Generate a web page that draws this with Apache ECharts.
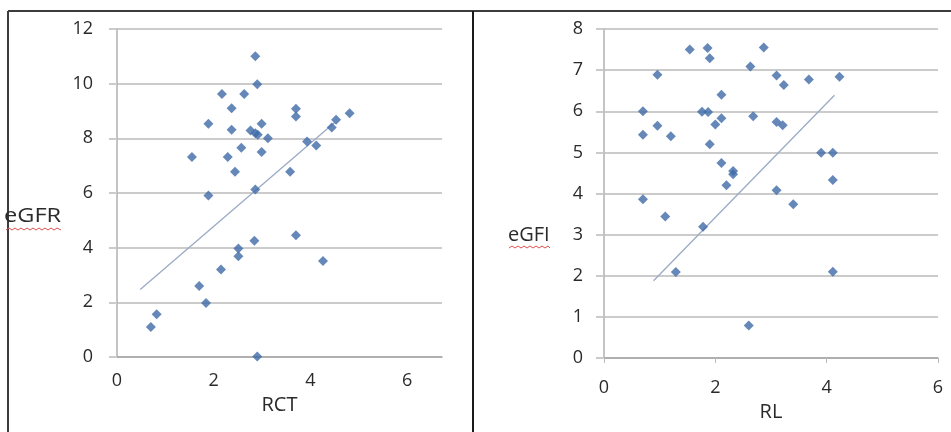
<!DOCTYPE html>
<html>
<head>
<meta charset="utf-8">
<script src="https://cdn.jsdelivr.net/npm/echarts@6/dist/echarts.min.js"></script>
<style>html,body{margin:0;padding:0;background:#fff}#c{width:951px;height:432px}</style>
</head>
<body>
<div id="c"></div>
<script>
// Left panel: RCT vs eGFR
const rctX  = [2.86,2.90,2.17,2.63,2.37,3.70,3.70,4.81,4.53,4.44,1.89,2.99,2.37,2.76,2.86,2.91,3.12,3.93,4.12,2.57,2.99,1.55,2.29,2.44,3.58,2.86,1.89,3.70,2.84,2.51,2.51,4.26,2.15,1.70,1.84,0.82,0.70,2.90];
const egfrY = [11.0,9.98,9.62,9.62,9.10,9.08,8.80,8.92,8.68,8.40,8.53,8.53,8.31,8.29,8.19,8.13,8.00,7.88,7.74,7.66,7.50,7.32,7.32,6.78,6.78,6.13,5.91,4.45,4.25,3.97,3.69,3.51,3.20,2.60,1.98,1.56,1.10,0.02];
const rctTrendX  = [0.48, 4.50];
const rctTrendY  = [2.47, 8.58];
// Right panel: RL vs eGFI
const rlX   = [1.54,1.86,1.90,2.87,2.63,0.96,3.10,3.23,3.68,4.23,2.11,0.70,1.76,1.87,2.11,2.00,2.68,3.10,3.21,0.96,0.70,1.20,1.90,3.90,4.11,2.11,2.32,2.32,4.11,2.20,3.10,0.70,3.40,1.10,1.78,1.29,4.11,2.60];
const egfiY = [7.50,7.54,7.29,7.55,7.09,6.89,6.87,6.64,6.77,6.84,6.40,6.00,5.99,5.98,5.83,5.68,5.88,5.74,5.66,5.65,5.43,5.39,5.20,4.99,4.99,4.74,4.55,4.47,4.33,4.20,4.08,3.86,3.74,3.44,3.19,2.09,2.10,0.79];
const rlTrendX = [0.89, 4.14];
const rlTrendY = [1.88, 6.39];

const zip = (a, b) => a.map((v, i) => [v, b[i]]);
const FONT = '"Open Sans", "DejaVu Sans", sans-serif';
const dotColor = '#3f6aa8';
const gridColor = '#cbcbcb';
const labelStyle = {color: '#2a2a2a', fontSize: 18, fontFamily: FONT};

function xAxis(gridIndex, max, name, gap, margin, tick, showMax) {
  return {
    type: 'value', gridIndex, min: 0, max, interval: 2,
    name, nameLocation: 'middle', nameGap: gap,
    nameTextStyle: {color: '#2a2a2a', fontSize: 20, fontFamily: FONT},
    axisLine: {show: true, onZero: false, lineStyle: {color: '#a6a6a6', width: 1.5}},
    axisTick: {show: tick, length: 5, lineStyle: {color: '#bbb'}},
    axisLabel: Object.assign({margin, showMaxLabel: showMax}, labelStyle),
    splitLine: {show: false}
  };
}
function yAxis(gridIndex, max, interval, margin) {
  return {
    type: 'value', gridIndex, min: 0, max, interval,
    axisLine: {show: true, lineStyle: {color: '#b0b0b0', width: 1.5}},
    axisTick: {show: true, length: 8, lineStyle: {color: gridColor, width: 2}},
    axisLabel: Object.assign({margin}, labelStyle),
    splitLine: {show: true, lineStyle: {color: gridColor, width: 2}}
  };
}

const chart = echarts.init(document.getElementById('c'));
chart.setOption({
  animation: false,
  backgroundColor: '#fff',
  grid: [
    {left: 117, top: 29, width: 325, height: 328},
    {left: 604, top: 29, width: 334, height: 329}
  ],
  xAxis: [
    xAxis(0, 6.72, 'RCT', 37, 15, false, false),
    xAxis(1, 6, 'RL', 42, 21, true, true)
  ],
  yAxis: [
    yAxis(0, 12, 2, 24),
    yAxis(1, 8, 1, 21)
  ],
  series: [
    {type: 'scatter', xAxisIndex: 0, yAxisIndex: 0, data: zip(rctX, egfrY),
     symbol: 'diamond', symbolSize: 10, itemStyle: {color: dotColor}},
    {type: 'line', xAxisIndex: 0, yAxisIndex: 0, data: zip(rctTrendX, rctTrendY),
     symbol: 'none', lineStyle: {color: '#9aabc6', width: 1.3}, z: 1},
    {type: 'scatter', xAxisIndex: 1, yAxisIndex: 1, data: zip(rlX, egfiY),
     symbol: 'diamond', symbolSize: 10, itemStyle: {color: dotColor}},
    {type: 'line', xAxisIndex: 1, yAxisIndex: 1, data: zip(rlTrendX, rlTrendY),
     symbol: 'none', lineStyle: {color: '#9aabc6', width: 1.3}, z: 1}
  ],
  graphic: [
    {type: 'line', shape: {x1: 8, y1: 11, x2: 951, y2: 11}, style: {stroke: '#3c3c3c', lineWidth: 2}},
    {type: 'line', shape: {x1: 8, y1: 11, x2: 8, y2: 432}, style: {stroke: '#3c3c3c', lineWidth: 2}},
    {type: 'line', shape: {x1: 473, y1: 11, x2: 473, y2: 432}, style: {stroke: '#1a1a1a', lineWidth: 2}},
    {type: 'text', x: 4, y: 206, scaleX: 1.18, style: {text: 'eGFR', fill: '#2a2a2a', fontSize: 20, fontFamily: FONT}},
    {type: 'polyline', shape: {points: [[6,230],[9,228],[12,230],[15,228],[18,230],[21,228],[24,230],[27,228],[30,230],[33,228],[36,230],[39,228],[42,230],[45,228],[48,230],[51,228],[54,230],[57,228],[61,230]]}, style: {stroke: '#e05050', lineWidth: 1, fill: null}},
    {type: 'text', x: 508, y: 225, style: {text: 'eGFI', fill: '#2a2a2a', fontSize: 20, fontFamily: FONT}},
    {type: 'polyline', shape: {points: [[509,248],[512,246],[515,248],[518,246],[521,248],[524,246],[527,248],[530,246],[533,248],[536,246],[539,248],[542,246],[545,248],[548,246],[550,248]]}, style: {stroke: '#e05050', lineWidth: 1, fill: null}}
  ]
});
</script>
</body>
</html>
